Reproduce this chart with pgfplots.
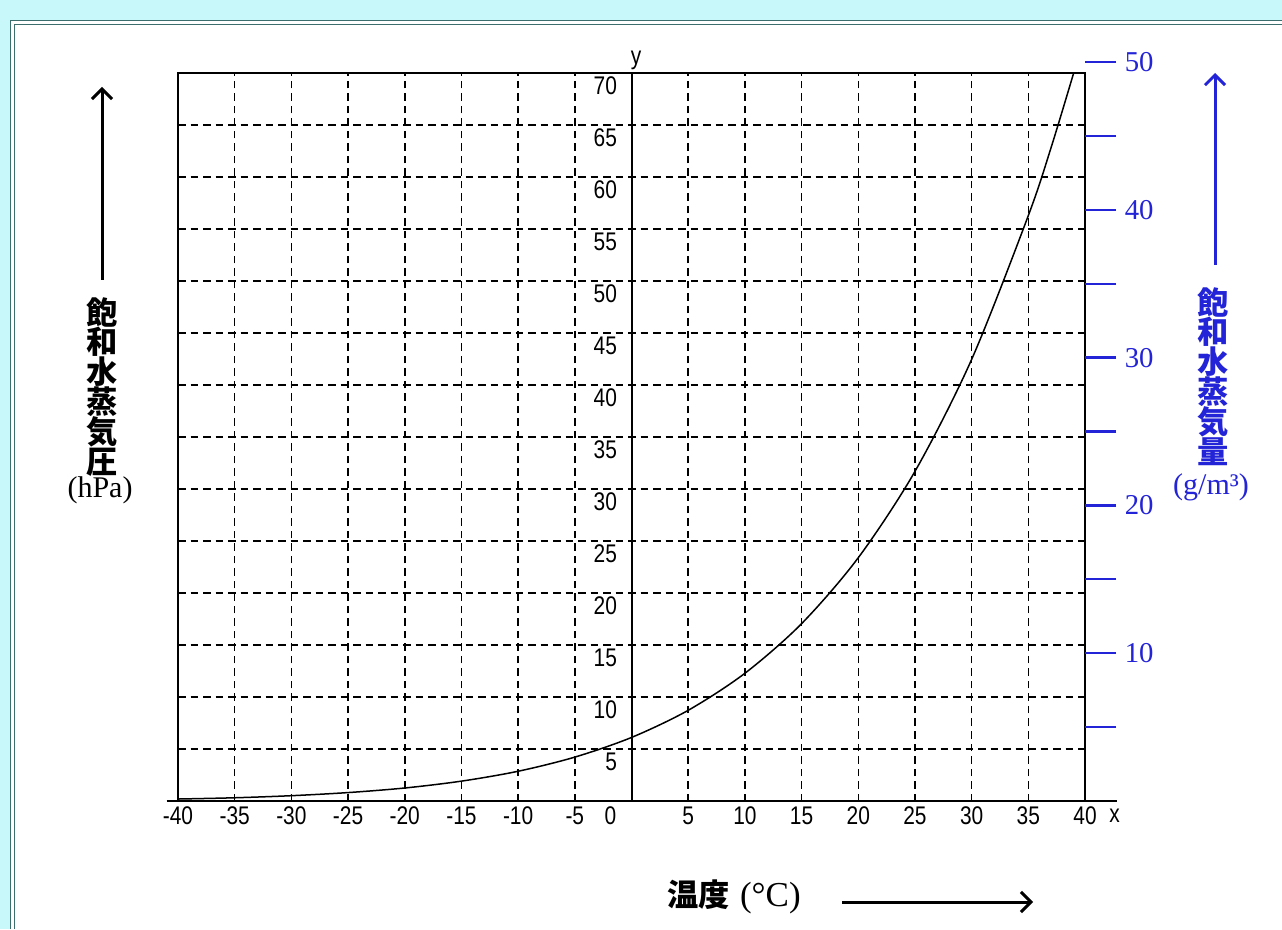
\documentclass[border=0pt]{standalone}
\usepackage{pgfplots}
\pgfplotsset{compat=1.18}
\usetikzlibrary{arrows.meta}
\usepackage{fontspec}
\setmainfont{Liberation Serif}
\newfontfamily\tickfont[FakeStretch=0.82]{Liberation Sans}
\newfontfamily\cjk{Noto Sans CJK JP}
\definecolor{bgcyan}{RGB}{200,248,250}
\definecolor{framet}{RGB}{60,110,110}
\definecolor{blueA}{RGB}{35,35,215}
\newcommand{\tf}{\tickfont\fontsize{10.2}{11}\selectfont}
\begin{document}
\begin{tikzpicture}[x=0.4pt,y=0.4pt]
\useasboundingbox (0,0) rectangle (1282,929);
\fill[bgcyan] (0,0) rectangle (1282,929);
\fill[white] (10,0) rectangle (1282,908);
\draw[framet,line width=0.4pt] (10,0) -- (10,908) -- (1282,908);
\draw[framet,line width=0.4pt] (14,0) -- (14,904) -- (1282,904);

% left axis (hPa)
\begin{axis}[
  at={(71.2pt,51.2pt)}, anchor=south west, scale only axis,
  width=362.8pt, height=291.2pt,
  xmin=-40, xmax=40, ymin=0, ymax=70,
  xtick={-40,-35,...,40},
  xticklabels={-40,-35,-30,-25,-20,-15,-10,-5,0\hspace*{16.8pt},5,10,15,20,25,30,35,40},
  ytick={0,5,...,70}, yticklabels={},
  grid=major,
  grid style={black, line width=0.6pt, dash pattern=on 3pt off 2pt},
  major tick length=0pt,
  axis line style={line width=0.9pt},
  xticklabel style={font=\tf, inner sep=0pt, anchor=north, yshift=-2pt},
  clip=false,
]
\addplot[black, line width=0.6pt, smooth] coordinates {
(-40,0.19) (-35,0.31) (-30,0.51) (-25,0.81) (-20,1.25) (-15,1.91) (-10,2.86)
(-5,4.22) (0,6.11) (5,8.72) (10,12.28) (15,17.05) (20,23.39) (25,31.69)
(30,42.46) (35,56.29) (37,62.8) (39,70.0)};
\draw[line width=0.8pt] (axis cs:0,0) -- (axis cs:0,70);
\draw[line width=0.8pt] (axis cs:-41,0) -- (axis cs:42.8,0);
\pgfplotsinvokeforeach{5,10,15,20,25,30,35,40,45,50,55,60,65,70}{
  \node[anchor=north east, inner sep=0pt, font=\tf, xshift=-5.6pt, yshift=-1.4pt] at (axis cs:0,#1) {#1};
}
\node[anchor=north, inner sep=0pt, font=\tf, yshift=-3pt] at (axis cs:42.6,0) {x};
\node[anchor=south, inner sep=0pt, font=\tf, yshift=1pt] at (axis cs:0.4,70) {y};
\end{axis}

% right axis (g/m3)
\begin{axis}[
  at={(71.2pt,51.2pt)}, anchor=south west, scale only axis,
  width=362.8pt, height=295.6pt,
  xmin=-40, xmax=40, ymin=0, ymax=50,
  hide x axis, axis y line*=right,
  y axis line style={draw=none},
  ytick={5,10,...,50},
  yticklabels={,10,,20,,30,,40,,50},
  tick align=outside, major tick length=12.4pt,
  tick style={draw=blueA, line width=0.9pt},
  yticklabel style={font=\fontsize{11.5}{12}\selectfont, text=blueA},
]
\end{axis}

% left label
\draw[line width=1.2pt, -{Straight Barb[length=4pt,width=8pt]}] (102,649) -- (102,842);
\foreach \c [count=\i from 0] in {飽,和,水,蒸,気,圧}
  \node[font=\cjk\bfseries\fontsize{12.5}{13}\selectfont, inner sep=0pt] at (102,{929-312-30*\i}) {\c};
\node[font=\fontsize{12}{13}\selectfont, inner sep=0pt] at (100,439) {(hPa)};

% right label
\draw[blueA, line width=1.2pt, -{Straight Barb[length=4pt,width=8pt]}] (1215,664) -- (1215,856);
\foreach \c [count=\i from 0] in {飽,和,水,蒸,気,量}
  \node[text=blueA, font=\cjk\bfseries\fontsize{12.5}{13}\selectfont, inner sep=0pt] at (1213,{929-302-30*\i}) {\c};
\node[text=blueA, font=\fontsize{12}{13}\selectfont, inner sep=0pt] at (1211,442) {(g/m³)};

% bottom label
\node[inner sep=0pt, anchor=west] at (667,32) {{\cjk\bfseries\fontsize{12.5}{13}\selectfont 温度}\hspace{4pt}{\fontsize{14}{15}\selectfont (°C)}};
\draw[line width=1.2pt, -{Straight Barb[length=4pt,width=8pt]}] (842,27) -- (1033,27);
\end{tikzpicture}
\end{document}
